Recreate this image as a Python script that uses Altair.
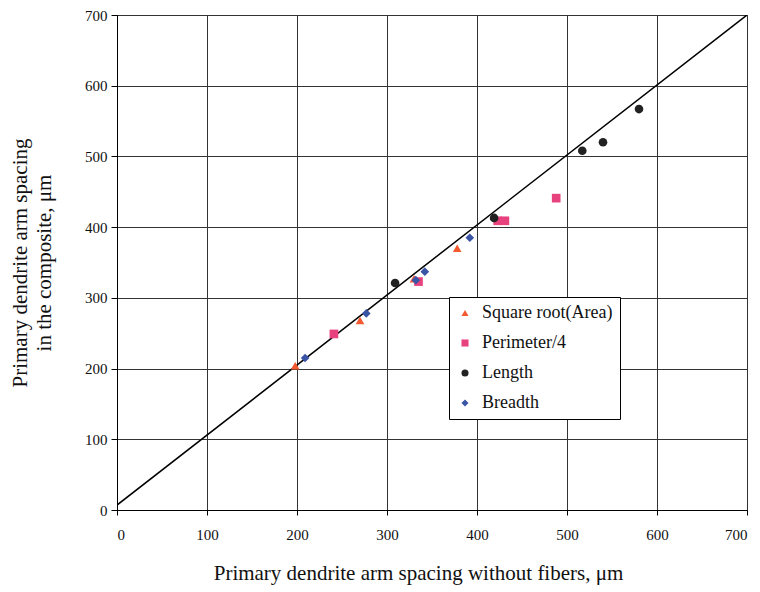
import altair as alt
import pandas as pd

# Data
series_names = ["Square root(Area)", "Perimeter/4", "Length", "Breadth"]
series_colors = ["#f4592f", "#e8427e", "#222222", "#3a54a6"]
series_shapes = ["triangle-up", "square", "circle", "diamond"]

sqrt_x = [198, 270, 330, 378]
sqrt_y = [204, 268, 327, 370]
perim_x = [241, 335, 423, 431, 488]
perim_y = [249, 323, 409, 409, 441]
length_x = [309, 419, 517, 540, 580]
length_y = [321, 413, 508, 520, 567]
breadth_x = [209, 277, 332, 342, 392]
breadth_y = [215, 278, 325, 337, 385]

line_x = [0, 700]
line_y = [7, 700]

axis_ticks = [0, 100, 200, 300, 400, 500, 600, 700]

rows = []
for name, xs, ys in zip(series_names,
                        [sqrt_x, perim_x, length_x, breadth_x],
                        [sqrt_y, perim_y, length_y, breadth_y]):
    for a, b in zip(xs, ys):
        rows.append({"x": a, "y": b, "series": name})
pts = pd.DataFrame(rows)
line_df = pd.DataFrame({"x": line_x, "y": line_y})

FONT = "Liberation Serif"

xscale = alt.Scale(domain=[0, 700], nice=False)
yscale = alt.Scale(domain=[0, 700], nice=False)

xaxis = alt.Axis(values=axis_ticks, title="Primary dendrite arm spacing without fibers, μm",
                 titlePadding=20, titleX=301, titleAnchor="middle", labelPadding=12, tickSize=5)
yaxis = alt.Axis(values=axis_ticks,
                 title=["Primary dendrite arm spacing", "in the composite,  μm"],
                 titlePadding=30, titleLineHeight=24, tickSize=6, labelPadding=4)

line = alt.Chart(line_df).mark_line(color="#000000", strokeWidth=1.5, clip=True).encode(
    x=alt.X("x:Q", scale=xscale, axis=xaxis),
    y=alt.Y("y:Q", scale=yscale, axis=yaxis),
)

points = alt.Chart(pts).mark_point(filled=True, size=75, opacity=1).encode(
    x=alt.X("x:Q", scale=xscale),
    y=alt.Y("y:Q", scale=yscale),
    color=alt.Color("series:N",
                    scale=alt.Scale(domain=series_names, range=series_colors),
                    legend=alt.Legend(title=None, orient="none", legendX=332, legendY=282,
                                      strokeColor="#000000", fillColor="#ffffff",
                                      padding=7, rowPadding=12,
                                      symbolSize=50, labelOffset=8, labelLimit=300)),
    shape=alt.Shape("series:N",
                    scale=alt.Scale(domain=series_names, range=series_shapes)),
)

chart = alt.layer(line, points).properties(
    width=630, height=495,
    autosize=alt.AutoSizeParams(type="none"),
    padding={"left": 109, "top": 7, "right": 5, "bottom": 80},
    background="#ffffff",
).configure(font=FONT).configure_view(
    stroke="#000000", strokeWidth=1
).configure_axis(
    grid=True, gridColor="#333333", gridOpacity=1, gridWidth=1,
    domainColor="#000000", tickColor="#000000",
    labelFont=FONT, labelFontSize=15, labelColor="#111111",
    titleFont=FONT, titleFontSize=21, titleFontWeight="normal", titleColor="#111111",
).configure_legend(
    labelFont=FONT, labelFontSize=18, labelColor="#111111",
)

chart.save("out.html", embed_options={"renderer": "svg", "actions": False})
